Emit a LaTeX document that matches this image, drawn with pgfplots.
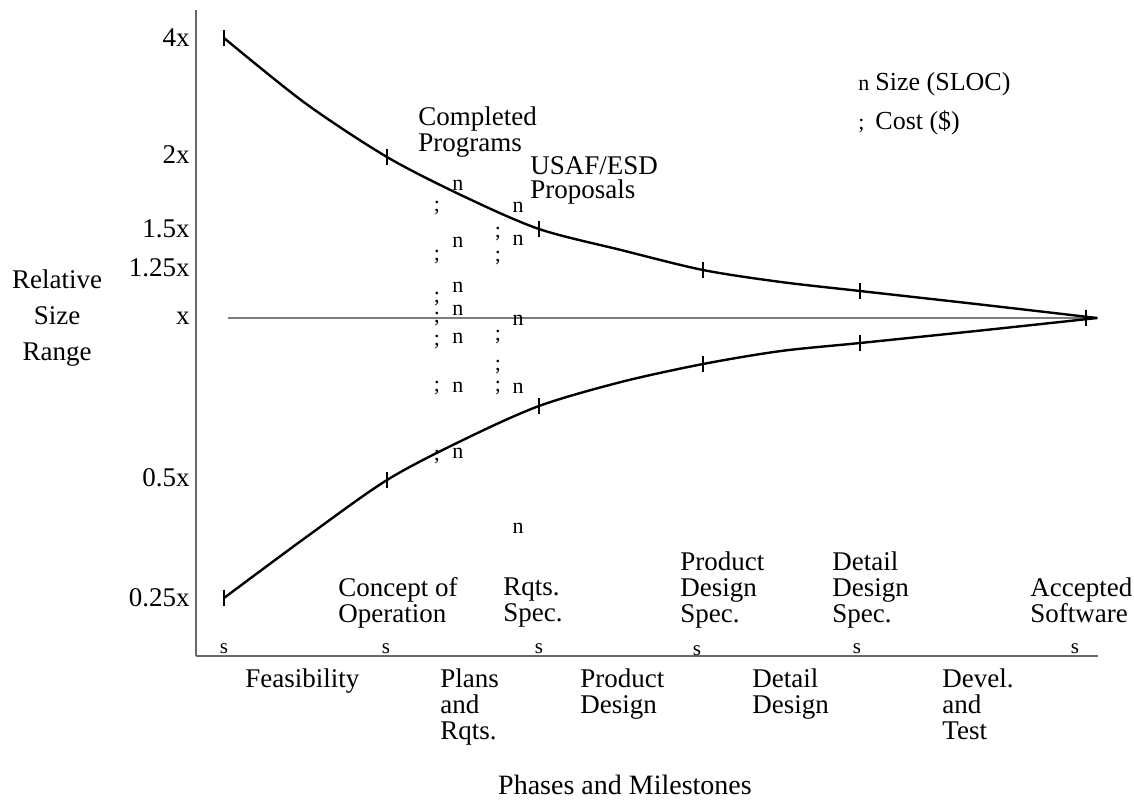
\documentclass[border=0pt]{standalone}
\usepackage{fontspec}
\setmainfont{Liberation Serif}
\usepackage{pgfplots}
\pgfplotsset{compat=1.18}
\definecolor{axisgray}{RGB}{105,105,105}
\definecolor{refgray}{RGB}{125,125,125}
\newcommand{\lbl}{\fontsize{13.5}{13}\selectfont}
\pgfplotsset{txtleg/.style={legend image code/.code={%
  \draw[##1] plot coordinates {(0pt,-2pt)};}}}

\begin{document}
\begin{tikzpicture}
\path[use as bounding box] (-98pt,-72pt) rectangle (469pt,328pt);
\begin{axis}[
  at={(0,0)}, anchor=south west,
  scale only axis, width=451pt, height=323pt,
  xmin=0, xmax=9.02, ymin=0, ymax=6.46,
  axis x line=bottom, axis y line=left,
  axis line style={-, draw=axisgray, line width=1.1pt},
  xtick=\empty,
  ytick={0.58,1.78,3.38,3.88,4.27,5.01,6.18},
  yticklabels={0.25x,0.5x,x,1.25x,1.5x,2x,4x},
  major tick length=0pt,
  yticklabel style={anchor=east, inner sep=0pt, xshift=-3pt, font=\lbl},
  xlabel={Phases and Milestones},
  xlabel style={at={(axis description cs:0.4756,-0.1997)}, anchor=center,
    font=\fontsize{14}{14}\selectfont},
  ylabel={Relative\\Size\\Range},
  ylabel style={at={(axis description cs:-0.1541,0.5232)}, anchor=center,
    rotate=-90, align=center, font=\fontsize{13.5}{18}\selectfont},
  legend style={at={(axis cs:6.62,5.535)}, anchor=west, draw=none, fill=none,
    font=\fontsize{13}{13}\selectfont, row sep=2.5pt, inner sep=0pt,
    nodes={inner sep=3pt}},
  legend cell align=left,
  clip=false,
]
% size estimates (n)
\addplot[only marks, mark=text, text mark={n}, text mark as node=true,
  text mark style={font=\fontsize{11}{11}\selectfont, inner sep=0pt}, txtleg]
  coordinates {(2.62,4.71) (2.62,4.14) (2.62,3.69) (2.62,3.46) (2.62,3.18)
    (2.62,2.69) (2.62,2.03)
    (3.22,4.49) (3.22,4.16) (3.22,3.36) (3.22,2.68) (3.22,1.28)};
\addlegendentry{Size (SLOC)}
% cost estimates (;)
\addplot[only marks, mark=text, text mark={;}, text mark as node=true,
  text mark style={font=\fontsize{11}{11}\selectfont, inner sep=0pt}, txtleg]
  coordinates {(2.41,4.48) (2.41,3.99) (2.41,3.57) (2.41,3.37) (2.41,3.14)
    (2.41,2.68) (2.41,1.99)
    (3.02,4.22) (3.02,3.98) (3.02,3.19) (3.02,2.89) (3.02,2.68)};
\addlegendentry{Cost (\$)}

% reference level x
\addplot[refgray, line width=0.9pt, forget plot]
  coordinates {(0.32,3.38) (9.02,3.38)};

% upper and lower bounds
\addplot[black, line width=1.2pt, smooth, forget plot]
  coordinates {(0.28,6.18) (1.09,5.53) (1.91,4.99) (2.67,4.60) (3.43,4.27)
    (4.25,4.06) (5.07,3.86) (5.85,3.74) (6.64,3.65) (7.80,3.52) (9.01,3.38)};
\addplot[black, line width=1.2pt, smooth, forget plot]
  coordinates {(0.28,0.58) (1.09,1.18) (1.91,1.76) (2.67,2.16) (3.43,2.50)
    (4.25,2.74) (5.07,2.92) (5.85,3.05) (6.64,3.13) (7.80,3.25) (9.01,3.38)};
\addplot[only marks, mark=|, mark size=3.8pt, line width=0.8pt, forget plot]
  coordinates {(0.28,6.18) (1.91,4.99) (3.43,4.27) (5.07,3.86) (6.64,3.65)
    (8.90,3.38) (0.28,0.58) (1.91,1.76) (3.43,2.50) (5.07,2.92) (6.64,3.13)};

% milestones
\addplot[only marks, mark=text, text mark={s}, text mark as node=true,
  text mark style={font=\fontsize{10.5}{10.5}\selectfont, inner sep=0pt},
  forget plot]
  coordinates {(0.28,0.07) (1.90,0.07) (3.43,0.07) (5.01,0.05) (6.61,0.07)
    (8.79,0.07)};

\begin{scope}[every node/.style={anchor=north west, inner sep=0pt,
    align=left, font=\lbl}]
\node at (axis cs:2.22,5.50) {Completed\\Programs};
\node[font=\fontsize{13.5}{12}\selectfont] at (axis cs:3.34,5.00)
  {USAF/ESD\\Proposals};
\node at (axis cs:1.42,0.79) {Concept of\\Operation};
\node at (axis cs:3.07,0.79) {Rqts.\\Spec.};
\node at (axis cs:4.84,1.05) {Product\\Design\\Spec.};
\node at (axis cs:6.36,1.05) {Detail\\Design\\Spec.};
\node at (axis cs:8.34,0.79) {Accepted\\Software};
\node at (axis cs:0.49,-0.12) {Feasibility};
\node at (axis cs:2.44,-0.12) {Plans\\and\\Rqts.};
\node at (axis cs:3.84,-0.12) {Product\\Design};
\node at (axis cs:5.56,-0.12) {Detail\\Design};
\node at (axis cs:7.46,-0.12) {Devel.\\and\\Test};
\end{scope}
\end{axis}
\end{tikzpicture}
\end{document}
